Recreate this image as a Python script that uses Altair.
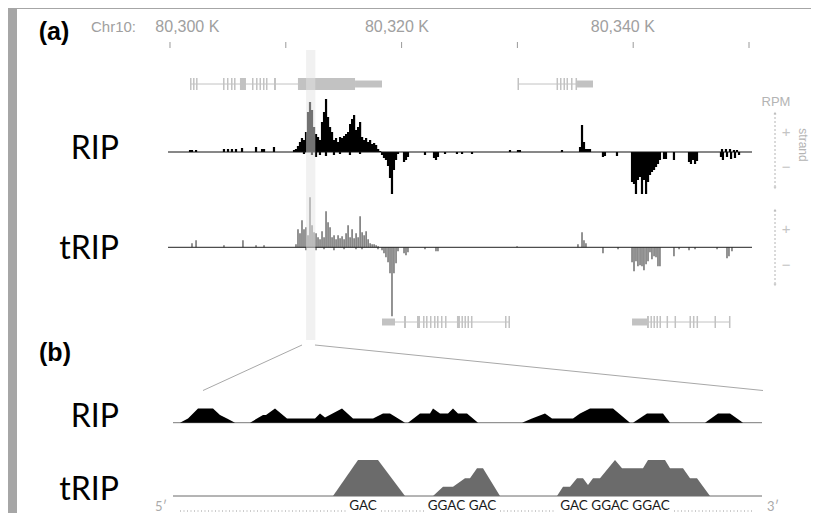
import altair as alt
import pandas as pd

# ------------------------------------------------------------------ data
# genomic positions are kb offsets from Chr10:80,300 K
ruler_tick_kb = [0, 10, 20, 30, 40, 50]
ruler_label_kb = [1.5, 19.6, 39.1]
ruler_labels = ["80,300 K", "80,320 K", "80,340 K"]
chrom_label = "Chr10:"

BIN_KB = 0.173
# RIP (panel a) dense core, plus strand, consecutive bins from 10.88 kb
rip_core_start_kb = 10.88
rip_core_plus = [3, 6, 10, 14, 12, 20, 40, 50, 42, 25, 18, 15, 12, 30, 40, 53, 35, 25, 20, 12,
                 14, 10, 15, 14, 16, 18, 20, 28, 33, 37, 22, 25, 30, 15, 12, 14, 10, 12, 8, 9,
                 7, 3, 1]
rip_plus_kb = [1.73, 1.90, 2.25, 4.66, 5.01, 5.35, 5.70, 6.22, 7.43, 7.95, 8.12, 8.98, 10.71,
               29.36, 30.05, 30.22, 33.85, 35.41, 35.58, 35.75, 35.92, 36.10, 36.27,
               47.67, 48.01, 48.36, 48.70, 48.96]
rip_plus_val = [2, 2, 2, 3, 3, 3, 3, 4, 5, 3, 3, 5, 2,
                2, 2, 2, 2, 5, 27, 10, 3, 3, 3,
                3, 3, 3, 2, 2]
rip_minus_kb = [11.57, 12.26, 12.61, 12.95, 13.47, 14.16, 14.68, 15.54, 16.41,
                18.31, 18.48, 18.65, 18.83, 19.00, 19.17, 19.34, 19.52, 19.69, 20.21, 20.38, 20.55,
                22.02, 22.80, 22.97, 23.14, 23.75, 24.78, 25.22, 26.08,
                37.39, 37.56, 38.60, 39.90, 40.07, 40.24, 40.41, 40.59, 40.76, 40.93, 41.11,
                41.28, 41.45, 41.62, 41.80, 41.97, 42.14, 42.31, 42.66, 42.83, 43.52,
                44.82, 44.99, 45.16, 45.34, 45.51, 47.58, 47.75, 48.10, 48.45, 48.79, 49.14]
rip_minus_val = [2, 3, 5, 3, 4, 3, 2, 3, 2,
                 3, 6, 8, 14, 26, 42, 18, 8, 2, 10, 8, 5,
                 3, 6, 8, 5, 2, 2, 2, 2,
                 5, 4, 4, 30, 32, 42, 28, 25, 42, 28, 42,
                 30, 23, 20, 18, 15, 12, 8, 7, 7, 8,
                 10, 12, 8, 12, 9, 5, 8, 5, 7, 6, 3]

# tRIP (panel a)
trip_core_start_kb = 10.88
trip_core_plus = [3, 18, 14, 27, 18, 20, 12, 50, 22, 15, 14, 10, 8, 16, 10, 36, 25, 20, 10, 12,
                  8, 12, 9, 11, 8, 14, 22, 10, 18, 9, 14, 10, 31, 15, 12, 16, 8, 4, 3, 3, 2, 1]
trip_plus_kb = [1.90, 2.25, 4.66, 6.30, 7.43, 8.12, 29.97, 35.23, 35.58, 35.75, 35.92]
trip_plus_val = [4, 7, 2, 7, 2, 2, 1, 3, 15, 7, 4]
trip_minus_kb = [11.74, 12.61, 13.30, 14.16, 15.03, 16.06, 16.58, 17.96,
                 18.31, 18.48, 18.65, 18.83, 19.00, 19.17, 19.34, 19.52, 19.69, 20.21, 20.38, 20.55,
                 22.02, 22.97, 23.14, 37.39, 38.69,
                 39.90, 40.07, 40.24, 40.41, 40.59, 40.76, 40.93, 41.11, 41.28, 41.45, 41.62,
                 41.80, 41.97, 42.14, 42.31, 43.52, 43.96, 44.82, 45.34, 47.24, 48.10, 48.27, 48.53]
trip_minus_val = [3, 3, 2, 3, 2, 2, 2, 2,
                  3, 6, 10, 15, 26, 69, 26, 16, 4, 6, 8, 5,
                  2, 4, 4, 6, 2,
                  15, 24, 14, 19, 18, 19, 23, 17, 14, 5, 12,
                  9, 10, 19, 19, 9, 2, 3, 2, 2, 11, 9, 4]

track_span_kb = [-0.17, 50.26]
highlight_kb = [11.75, 12.55]
zoom_top_kb = [11.40, 12.52]
zoom_bottom_kb = [2.85, 51.21]

# gene models (kb)
plus_intron_start = [1.73, 30.05]
plus_intron_end = [18.31, 36.53]
plus_exon_start = [1.73, 1.99, 2.25, 4.58, 4.92, 5.27, 5.53, 6.04, 7.08, 7.43, 7.73, 8.03, 8.29,
                   8.98, 11.05, 15.98, 30.01, 33.38, 33.68, 33.98, 34.24, 34.63, 35.02, 35.15]
plus_exon_end = [1.86, 2.12, 2.38, 4.71, 5.05, 5.40, 5.66, 6.56, 7.21, 7.56, 7.86, 8.16, 8.42,
                 9.15, 15.98, 18.31, 30.14, 33.51, 33.81, 34.11, 34.37, 34.76, 35.15, 36.53]
plus_exon_type = ["CDS"] * 15 + ["UTR"] + ["CDS"] * 7 + ["UTR"]
minus_intron_start = [18.31, 39.90]
minus_intron_end = [29.36, 48.36]
minus_exon_start = [18.31, 20.21, 21.33, 21.85, 22.11, 22.45, 22.80, 23.06, 23.40, 23.75, 24.78,
                    25.17, 25.43, 25.69, 25.99, 28.93, 29.23,
                    39.90, 41.19, 41.49, 41.75, 42.01, 42.27, 42.88, 43.57, 44.86, 45.16, 45.47,
                    47.02, 48.27]
minus_exon_end = [19.43, 20.38, 21.59, 21.98, 22.24, 22.58, 22.93, 23.19, 23.53, 23.88, 25.04,
                  25.30, 25.56, 25.82, 26.12, 29.06, 29.36,
                  41.19, 41.36, 41.62, 41.88, 42.14, 42.40, 43.01, 43.70, 44.99, 45.29, 45.60,
                  47.15, 48.40]
minus_exon_type = ["UTR"] + ["CDS"] * 16 + ["UTR"] + ["CDS"] * 12

# panel b: zoomed window, positions in nt
window_nt = [0, 589]
rip_b_peaks_nt = [
    [7, 15, 25, 40, 47, 54, 62],
    [77, 90, 93, 102, 114, 142, 147, 152, 169, 180, 200, 210, 217, 232],
    [235, 247, 257, 260, 267, 275, 280, 285, 294, 305],
    [349, 359, 372, 379, 400, 407, 417, 440, 457],
    [460, 474, 490, 497],
    [532, 545, 557, 570],
]
rip_b_peaks_cov = [
    [0, 4.3, 14.3, 14.3, 7.7, 4.3, 0],
    [0, 7.7, 7.7, 14.3, 4.3, 4.3, 9.3, 5.3, 14.3, 4.3, 4.3, 9.3, 9.3, 0],
    [0, 9.3, 9.3, 14.3, 9.3, 9.3, 14.3, 9.3, 9.3, 0],
    [0, 4.3, 9.3, 4.3, 4.3, 9.3, 14.3, 14.3, 0],
    [0, 9.3, 9.3, 0],
    [0, 9.3, 9.3, 0],
]
trip_b_peaks_nt = [
    [160, 185, 205, 232],
    [260, 270, 280, 292, 297, 304, 310, 327],
    [384, 390, 397, 404, 410, 415, 420, 427, 442, 449, 470, 475, 492, 497, 510, 517, 524, 537],
]
trip_b_peaks_cov = [
    [0, 36, 36, 0],
    [0, 9.3, 9.3, 17.7, 17.7, 27.7, 27.7, 0],
    [0, 9.3, 9.3, 17.7, 17.7, 11, 17.7, 17.7, 36, 27.7, 27.7, 36, 36, 27.7, 27.7, 17.7, 17.7, 0],
]
motif_labels = ["GAC", "GGAC GAC", "GAC GGAC GGAC"]
motif_center_nt = [190, 289, 442]
dotted_start_nt = [7, 208, 327, 501]
dotted_end_nt = [173, 251, 383, 580]
end_labels = ["5\u2032", "3\u2032"]
end_label_nt = [-12, 600]

# ------------------------------------------------------------------ layout
W, H = 794, 504
XA = alt.Scale(domain=[-13.212, 55.354], nice=False, zero=False)
XB = alt.Scale(domain=[-156, 638], nice=False, zero=False)


def yscale(base):
    return alt.Scale(domain=[base - H, base], nice=False, zero=False)


Y_RIPA, Y_TRIPA, Y_RIPB, Y_TRIPB = yscale(143), yscale(238.3), yscale(413.7), yscale(487)
one = pd.DataFrame({"k": [0]})
layers = []


def bars_df(core_start, core, pos, val, mpos, mval, w):
    p = [core_start + i * BIN_KB for i in range(len(core))] + list(pos) + list(mpos)
    v = list(core) + list(val) + [-x for x in mval]
    return pd.DataFrame({"s": [a - w / 2 for a in p], "e": [a + w / 2 for a in p], "v": v, "z": [0] * len(p)})


def signal_layer(df, ysc, color):
    return alt.Chart(df).mark_rect(color=color, strokeWidth=0).encode(
        x=alt.X("s:Q", scale=XA, axis=None), x2="e:Q",
        y=alt.Y("v:Q", scale=ysc, axis=None), y2="z:Q")


def baseline_layer(span, ysc, color, xsc):
    df = pd.DataFrame({"a": [span[0]], "b": [span[1]], "z": [0]})
    return alt.Chart(df).mark_rule(color=color, strokeWidth=1).encode(
        x=alt.X("a:Q", scale=xsc, axis=None), x2="b:Q", y=alt.Y("z:Q", scale=ysc, axis=None))


def text_layer(txt, x, y, **kw):
    return alt.Chart(pd.DataFrame({"t": [txt]})).mark_text(**kw).encode(
        x=alt.value(x), y=alt.value(y), text="t:N")


# ruler
layers.append(alt.Chart(pd.DataFrame({"x": ruler_tick_kb})).mark_rule(color="#9a9a9a").encode(
    x=alt.X("x:Q", scale=XA, axis=None), y=alt.value(33), y2=alt.value(39)))
layers.append(alt.Chart(pd.DataFrame({"x": ruler_label_kb, "t": ruler_labels})).mark_text(
    font="Liberation Sans", fontSize=16, color="#a0a0a0", baseline="middle").encode(
    x=alt.X("x:Q", scale=XA, axis=None), y=alt.value(18), text="t:N"))
layers.append(text_layer(chrom_label, 119, 18, font="Liberation Sans", fontSize=15, color="#a0a0a0",
                         align="right", baseline="middle"))


# genes
def gene_layers(i_s, i_e, e_s, e_e, e_t, vy):
    col = "#c2c2c2"
    intr = alt.Chart(pd.DataFrame({"a": i_s, "b": i_e})).mark_rule(color=col, strokeWidth=1).encode(
        x=alt.X("a:Q", scale=XA, axis=None), x2="b:Q", y=alt.value(vy))
    ex = alt.Chart(pd.DataFrame({"a": e_s, "b": e_e, "t": e_t})).mark_rule(color=col, strokeCap="butt").encode(
        x=alt.X("a:Q", scale=XA, axis=None), x2="b:Q", y=alt.value(vy),
        strokeWidth=alt.StrokeWidth("t:N", scale=alt.Scale(domain=["CDS", "UTR"], range=[12, 7]), legend=None))
    return [intr, ex]


layers += gene_layers(plus_intron_start, plus_intron_end, plus_exon_start, plus_exon_end, plus_exon_type, 75)
layers += gene_layers(minus_intron_start, minus_intron_end, minus_exon_start, minus_exon_end, minus_exon_type, 313)

# signal tracks (panel a)
layers.append(signal_layer(bars_df(rip_core_start_kb, rip_core_plus, rip_plus_kb, rip_plus_val,
                                   rip_minus_kb, rip_minus_val, 0.19), Y_RIPA, "#000000"))
layers.append(baseline_layer(track_span_kb, Y_RIPA, "#111111", XA))
layers.append(signal_layer(bars_df(trip_core_start_kb, trip_core_plus, trip_plus_kb, trip_plus_val,
                                   trip_minus_kb, trip_minus_val, 0.13), Y_TRIPA, "#707070"))
layers.append(baseline_layer(track_span_kb, Y_TRIPA, "#222222", XA))

# highlight band
layers.append(alt.Chart(pd.DataFrame({"a": [highlight_kb[0]], "b": [highlight_kb[1]]})).mark_rect(
    color="#e4e4e4", opacity=0.5).encode(
    x=alt.X("a:Q", scale=XA, axis=None), x2="b:Q", y=alt.value(41), y2=alt.value(331)))

# zoom lines
layers.append(alt.Chart(pd.DataFrame({"a": zoom_top_kb, "b": zoom_bottom_kb})).mark_rule(
    color="#a8a8a8", strokeWidth=1).encode(
    x=alt.X("a:Q", scale=XA, axis=None), x2="b:Q", y=alt.value(336), y2=alt.value(381.5)))

# strand annotation on the right
ann = "#b4b4b4"
layers.append(text_layer("RPM", 759, 93, font="Liberation Sans", fontSize=13, color=ann, baseline="middle"))
layers.append(text_layer("strand", 786, 136, font="Liberation Sans", fontSize=12, color=ann,
                         baseline="middle", angle=90))
for top, bot in [(104, 179), (201, 276)]:
    layers.append(alt.Chart(one).mark_rule(color=ann, strokeDash=[2, 2], strokeWidth=1).encode(
        x=alt.value(758), y=alt.value(top), y2=alt.value(bot)))
    layers.append(alt.Chart(one).mark_point(shape="triangle-up", filled=True, size=10, color=ann).encode(
        x=alt.value(758), y=alt.value(top)))
    layers.append(alt.Chart(one).mark_point(shape="triangle-down", filled=True, size=10, color=ann).encode(
        x=alt.value(758), y=alt.value(bot)))
for t, y in [("+", 123), ("\u2212", 158), ("+", 220), ("\u2212", 256)]:
    layers.append(text_layer(t, 769, y, font="Liberation Sans", fontSize=15, color="#c4c4c4", baseline="middle"))

# left labels
big = dict(font="Lato", fontSize=32, color="#000000", align="right", baseline="alphabetic")
layers.append(text_layer("RIP", 102, 150, **big))
layers.append(text_layer("tRIP", 102, 250, **big))
layers.append(text_layer("RIP", 102, 418, **big))
layers.append(text_layer("tRIP", 102, 491, **big))
layers.append(text_layer("(a)", 37, 22.5, font="Liberation Sans", fontSize=25, fontWeight="bold",
                         color="#000000", baseline="middle"))
layers.append(text_layer("(b)", 38, 343.5, font="Liberation Sans", fontSize=25, fontWeight="bold",
                         color="#000000", baseline="middle"))


# panel b
def peaks_df(nts, covs):
    rows = []
    for g, (ns, cs) in enumerate(zip(nts, covs)):
        for n, c in zip(ns, cs):
            rows.append({"g": g, "n": n, "c": c, "z": 0})
    return pd.DataFrame(rows)


layers.append(baseline_layer(window_nt, Y_RIPB, "#7a7a7a", XB))
layers.append(alt.Chart(peaks_df(rip_b_peaks_nt, rip_b_peaks_cov)).mark_area(color="#000000").encode(
    x=alt.X("n:Q", scale=XB, axis=None), y=alt.Y("c:Q", scale=Y_RIPB, axis=None), y2="z:Q", detail="g:N"))
layers.append(baseline_layer(window_nt, Y_TRIPB, "#6a6a6a", XB))
layers.append(alt.Chart(peaks_df(trip_b_peaks_nt, trip_b_peaks_cov)).mark_area(color="#6b6b6b").encode(
    x=alt.X("n:Q", scale=XB, axis=None), y=alt.Y("c:Q", scale=Y_TRIPB, axis=None), y2="z:Q", detail="g:N"))
layers.append(alt.Chart(pd.DataFrame({"a": dotted_start_nt, "b": dotted_end_nt})).mark_rule(
    color="#9a9a9a", strokeDash=[1, 2.5], strokeWidth=1).encode(
    x=alt.X("a:Q", scale=XB, axis=None), x2="b:Q", y=alt.value(502)))
layers.append(alt.Chart(pd.DataFrame({"x": motif_center_nt, "t": motif_labels})).mark_text(
    font="Lato", fontSize=13.5, color="#1a1a1a", baseline="middle").encode(
    x=alt.X("x:Q", scale=XB, axis=None), y=alt.value(497), text="t:N"))
layers.append(alt.Chart(pd.DataFrame({"x": end_label_nt, "t": end_labels})).mark_text(
    font="Lato", fontSize=13, color="#aaaaaa", baseline="middle").encode(
    x=alt.X("x:Q", scale=XB, axis=None), y=alt.value(497.5), text="t:N"))

chart = alt.layer(*layers).resolve_scale(x="independent", y="independent").properties(
    width=W, height=H,
    padding={"left": 9, "top": 1, "right": 0, "bottom": 0},
    background="#a6a6a6",
    autosize=alt.AutoSizeParams(type="none"),
).configure_view(stroke=None, fill="white")

chart.save("out.html", embed_options={"renderer": "svg", "actions": False})
